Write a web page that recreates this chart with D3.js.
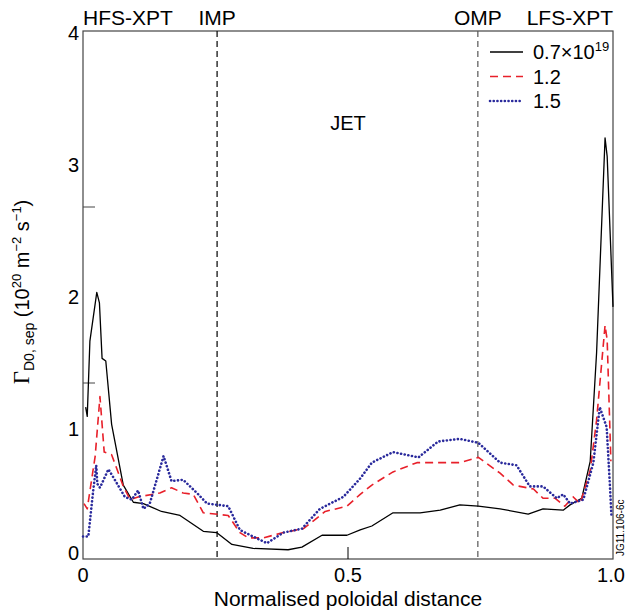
<!DOCTYPE html>
<html>
<head>
<meta charset="utf-8">
<script src="https://cdn.jsdelivr.net/npm/d3@7"></script>
<style>
  body { margin: 0; background: #fff; }
  text { font-family: "Liberation Sans", Arial, sans-serif; fill: #000; }
</style>
</head>
<body>
<svg id="chart" width="627" height="613"></svg>
<script>
// data (normalised poloidal distance vs flux, 1e20 m^-2 s^-1)
const blackX = [0.005,0.008,0.013,0.026,0.031,0.036,0.043,0.054,0.076,0.095,0.114,0.148,0.183,0.227,0.252,0.281,0.321,0.387,0.413,0.451,0.498,0.523,0.545,0.585,0.636,0.674,0.711,0.746,0.787,0.840,0.868,0.906,0.919,0.941,0.957,0.969,0.985,0.989,1.0];
const blackY = [1.15,1.08,1.65,2.02,1.94,1.52,1.50,1.02,0.56,0.43,0.42,0.36,0.33,0.21,0.20,0.11,0.08,0.07,0.09,0.18,0.18,0.22,0.25,0.35,0.35,0.37,0.41,0.40,0.38,0.34,0.38,0.37,0.41,0.46,0.74,1.56,3.19,3.05,1.91];

const redX = [0.002,0.008,0.023,0.032,0.040,0.054,0.076,0.089,0.104,0.145,0.167,0.189,0.208,0.227,0.274,0.296,0.312,0.340,0.378,0.416,0.457,0.498,0.523,0.545,0.585,0.630,0.711,0.746,0.787,0.812,0.850,0.868,0.891,0.909,0.925,0.938,0.957,0.969,0.985,0.989,0.996];
const redY = [0.42,0.38,0.78,1.23,0.81,0.79,0.55,0.45,0.47,0.50,0.54,0.50,0.49,0.35,0.33,0.20,0.16,0.16,0.20,0.23,0.36,0.40,0.49,0.56,0.66,0.73,0.73,0.77,0.65,0.56,0.53,0.46,0.46,0.40,0.47,0.42,0.67,1.05,1.77,1.66,0.74];

const blueX = [0.0,0.010,0.019,0.025,0.027,0.032,0.048,0.060,0.079,0.092,0.104,0.114,0.126,0.152,0.167,0.189,0.215,0.234,0.274,0.296,0.321,0.347,0.378,0.413,0.447,0.491,0.523,0.545,0.585,0.633,0.670,0.711,0.746,0.787,0.818,0.843,0.868,0.894,0.906,0.919,0.944,0.963,0.975,0.988,0.994,0.997];
const blueY = [0.17,0.17,0.51,0.71,0.57,0.54,0.68,0.60,0.47,0.45,0.52,0.38,0.42,0.78,0.59,0.60,0.50,0.42,0.40,0.22,0.17,0.12,0.20,0.23,0.38,0.47,0.61,0.73,0.81,0.77,0.89,0.91,0.88,0.73,0.71,0.55,0.55,0.46,0.49,0.42,0.45,0.73,1.15,1.00,0.57,0.33];

const legendLabels = ["0.7", "1.2", "1.5"];
const yTicks = [0, 1, 2, 3, 4];
const yMinorTicks = [4 / 3, 8 / 3];
const xTicks = [0, 0.5, 1.0];
const xTickLabels = ["0", "0.5", "1.0"];
const markers = [
    {name: "HFS-XPT", x: 0},
    {name: "IMP", x: 0.253},
    {name: "OMP", x: 0.745},
    {name: "LFS-XPT", x: 1.0}
];

const width = 627, height = 613;
const margin = {top: 31, right: 14, bottom: 54, left: 83};
const svg = d3.select("#chart");

const x = d3.scaleLinear().domain([0, 1]).range([margin.left, width - margin.right]);
const y = d3.scaleLinear().domain([0, 4]).range([height - margin.bottom, margin.top]);

// frame
svg.append("rect")
    .attr("x", x(0)).attr("y", y(4))
    .attr("width", x(1) - x(0)).attr("height", y(0) - y(4))
    .attr("fill", "none").attr("stroke", "#444").attr("stroke-width", 1.2);

// IMP / OMP dashed lines
svg.selectAll(".mid")
    .data(markers.slice(1, 3))
    .enter()
    .append("line")
    .attr("class", "mid")
    .attr("x1", d => x(d.x)).attr("x2", d => x(d.x))
    .attr("y1", y(4)).attr("y2", y(0))
    .attr("stroke", (d, i) => i == 0 ? "#000" : "#555")
    .attr("stroke-width", 1.2)
    .attr("stroke-dasharray", "6,4");

// y tick labels
svg.selectAll(".ytl")
    .data(yTicks)
    .enter()
    .append("text")
    .attr("class", "ytl")
    .attr("x", x(0) - 4)
    .attr("y", d => d == 0 ? y(d) - 6 : y(d) + 2)
    .attr("dy", "0.35em")
    .attr("text-anchor", "end")
    .attr("font-size", 20)
    .text(d => d);

// odd inward ticks on the left axis
svg.selectAll(".ymin")
    .data(yMinorTicks)
    .enter()
    .append("line")
    .attr("class", "ymin")
    .attr("x1", x(0)).attr("x2", x(0) + 12)
    .attr("y1", d => y(d)).attr("y2", d => y(d))
    .attr("stroke", "#444").attr("stroke-width", 1);

// x ticks
svg.append("line")
    .attr("x1", x(0.5)).attr("x2", x(0.5))
    .attr("y1", y(0)).attr("y2", y(0) - 12)
    .attr("stroke", "#000").attr("stroke-width", 1);

svg.selectAll(".xtl")
    .data(xTicks)
    .enter()
    .append("text")
    .attr("class", "xtl")
    .attr("x", (d, i) => i == 2 ? x(d) - 2 : x(d))
    .attr("y", y(0) + 23)
    .attr("text-anchor", "middle")
    .attr("font-size", 20)
    .text((d, i) => xTickLabels[i]);

// position labels on top
svg.selectAll(".mk")
    .data(markers)
    .enter()
    .append("text")
    .attr("class", "mk")
    .attr("x", d => x(d.x))
    .attr("y", 25)
    .attr("text-anchor", (d, i) => i == 0 ? "start" : (i == 3 ? "end" : "middle"))
    .attr("font-size", 21)
    .text(d => d.name);

svg.append("text")
    .attr("x", x(0.5)).attr("y", 130)
    .attr("text-anchor", "middle")
    .attr("font-size", 20)
    .text("JET");

// curves
const series = [
    {xs: blackX, ys: blackY, color: "#000", dash: null, w: 1.3, cap: "butt"},
    {xs: redX, ys: redY, color: "#e8202a", dash: "8,5", w: 1.6, cap: "butt"},
    {xs: blueX, ys: blueY, color: "#2a2a9c", dash: "0.1,3.6", w: 2.6, cap: "round"}
];

const line = d3.line()
    .x(d => x(d[0]))
    .y(d => y(d[1]));

svg.selectAll(".curve")
    .data(series)
    .enter()
    .append("path")
    .attr("class", "curve")
    .attr("d", s => line(s.xs.map((v, i) => [v, s.ys[i]])))
    .attr("fill", "none")
    .attr("stroke", s => s.color)
    .attr("stroke-width", s => s.w)
    .attr("stroke-linecap", s => s.cap)
    .attr("stroke-linejoin", "round")
    .attr("stroke-dasharray", s => s.dash);

// legend
const leg = svg.append("g");
series.forEach(function (s, i) {
    const ly = 52 + i * 24.5;
    leg.append("line")
        .attr("x1", 490).attr("x2", 523)
        .attr("y1", ly).attr("y2", ly)
        .attr("stroke", s.color)
        .attr("stroke-width", s.w)
        .attr("stroke-linecap", s.cap)
        .attr("stroke-dasharray", s.dash);
    const t = leg.append("text")
        .attr("x", 533).attr("y", ly + 7)
        .attr("font-size", 20)
        .text(legendLabels[i]);
    if (i == 0) {
        t.append("tspan").text("\u00d710");
        t.append("tspan").attr("font-size", 13).attr("dy", -8).text("19");
    }
});

// y axis title
const yt = svg.append("text")
    .attr("transform", "translate(29," + 292 + ") rotate(-90)")
    .attr("text-anchor", "middle")
    .attr("font-size", 20);
yt.append("tspan").attr("font-family", "Liberation Serif, serif").attr("font-size", 23).text("\u0393");
yt.append("tspan").attr("font-size", 14).attr("dy", 5).text("D0, sep");
yt.append("tspan").attr("dy", -5).text(" (10");
yt.append("tspan").attr("font-size", 13).attr("dy", -8).text("20");
yt.append("tspan").attr("dy", 8).text(" m");
yt.append("tspan").attr("font-size", 13).attr("dy", -8).text("\u22122");
yt.append("tspan").attr("dy", 8).text(" s");
yt.append("tspan").attr("font-size", 13).attr("dy", -8).text("\u22121");
yt.append("tspan").attr("dy", 8).text(")");

// x axis title
svg.append("text")
    .attr("x", x(0.5)).attr("y", 606)
    .attr("text-anchor", "middle")
    .attr("font-size", 21)
    .text("Normalised poloidal distance");

// figure id
svg.append("text")
    .attr("transform", "translate(624,556) rotate(-90)")
    .attr("font-size", 10)
    .text("JG11.106-6c");
</script>
</body>
</html>
